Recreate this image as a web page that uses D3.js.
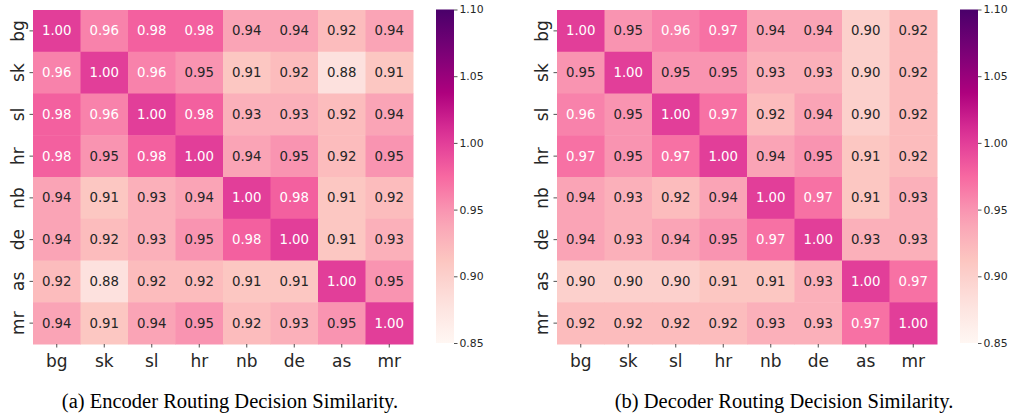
<!DOCTYPE html>
<html><head><meta charset="utf-8">
<script src="https://cdn.jsdelivr.net/npm/d3@7"></script>
<style>body{margin:0;background:#fff;} svg{display:block;}</style>
</head><body>
<svg id="chart" width="1011" height="414"></svg>
<script>
const languages = ["bg","sk","sl","hr","nb","de","as","mr"];
const encoderValues = [
 [1.00,0.96,0.98,0.98,0.94,0.94,0.92,0.94],
 [0.96,1.00,0.96,0.95,0.91,0.92,0.88,0.91],
 [0.98,0.96,1.00,0.98,0.93,0.93,0.92,0.94],
 [0.98,0.95,0.98,1.00,0.94,0.95,0.92,0.95],
 [0.94,0.91,0.93,0.94,1.00,0.98,0.91,0.92],
 [0.94,0.92,0.93,0.95,0.98,1.00,0.91,0.93],
 [0.92,0.88,0.92,0.92,0.91,0.91,1.00,0.95],
 [0.94,0.91,0.94,0.95,0.92,0.93,0.95,1.00]
];
const decoderValues = [
 [1.00,0.95,0.96,0.97,0.94,0.94,0.90,0.92],
 [0.95,1.00,0.95,0.95,0.93,0.93,0.90,0.92],
 [0.96,0.95,1.00,0.97,0.92,0.94,0.90,0.92],
 [0.97,0.95,0.97,1.00,0.94,0.95,0.91,0.92],
 [0.94,0.93,0.92,0.94,1.00,0.97,0.91,0.93],
 [0.94,0.93,0.94,0.95,0.97,1.00,0.93,0.93],
 [0.90,0.90,0.90,0.91,0.91,0.93,1.00,0.97],
 [0.92,0.92,0.92,0.92,0.93,0.93,0.97,1.00]
];
const colorbarTicks = [0.85,0.90,0.95,1.00,1.05,1.10];
const captions = ["(a) Encoder Routing Decision Similarity.","(b) Decoder Routing Decision Similarity."];
const vmin = 0.85, vmax = 1.10;

const rdpu = ["#fff7f3","#fde0dd","#fcc5c0","#fa9fb5","#f768a1","#dd3497","#ae017e","#7a0177","#49006a"];
const color = d3.scaleLinear()
  .domain(rdpu.map((_,i)=> vmin + (vmax-vmin)*i/(rdpu.length-1)))
  .range(rdpu).interpolate(d3.interpolateRgb).clamp(true);

function lum(c){
  const rgb = d3.rgb(c);
  const f = v => { v/=255; return v<=0.03928 ? v/12.92 : Math.pow((v+0.055)/1.055,2.4); };
  return 0.2126*f(rgb.r)+0.7152*f(rgb.g)+0.0722*f(rgb.b);
}

const svg = d3.select("#chart");
const defs = svg.append("defs");
const panels = [
  {data: encoderValues, x0: 33, cbx: 436, capX: 230, id:"a"},
  {data: decoderValues, x0: 557, cbx: 960, capX: 784, id:"b"}
];
const hmTop = 10, hmBottom = 344, hmW = 380;

panels.forEach((p, pi) => {
  const g = svg.append("g");
  const x = d3.scaleBand().domain(languages).range([p.x0, p.x0+hmW]).padding(0);
  const y = d3.scaleBand().domain(languages).range([hmTop, hmBottom]).padding(0);
  const cells = [];
  p.data.forEach((row,i)=>row.forEach((v,j)=>cells.push({r:languages[i], c:languages[j], v})));
  g.selectAll("rect.cell").data(cells).join("rect")
    .attr("x", d=>x(d.c)).attr("y", d=>y(d.r))
    .attr("width", x.bandwidth()+0.5).attr("height", y.bandwidth()+0.5)
    .attr("fill", d=>color(d.v));
  g.selectAll("text.ann").data(cells).join("text")
    .attr("x", d=>x(d.c)+x.bandwidth()/2).attr("y", d=>y(d.r)+y.bandwidth()/2)
    .attr("text-anchor","middle").attr("dominant-baseline","central")
    .attr("font-family","DejaVu Sans").attr("font-size",13.3)
    .attr("fill", d=> lum(color(d.v)) > 0.408 ? "#262626" : "#ffffff")
    .text(d=>d.v.toFixed(2));

  const xAxis = d3.axisBottom(x).tickSize(3.5).tickPadding(7);
  const gx = g.append("g").attr("transform",`translate(0,${hmBottom})`).call(xAxis);
  gx.select(".domain").remove();
  gx.selectAll("line").attr("stroke","#262626").attr("stroke-width",0.8);
  gx.selectAll("text").attr("font-family","DejaVu Sans").attr("font-size",17).attr("fill","#262626");

  const yAxis = d3.axisLeft(y).tickSize(3.5).tickPadding(3);
  const gy = g.append("g").attr("transform",`translate(${p.x0},0)`).call(yAxis);
  gy.select(".domain").remove();
  gy.selectAll("line").attr("stroke","#262626").attr("stroke-width",0.8);
  gy.selectAll("text").attr("font-family","DejaVu Sans").attr("font-size",17).attr("fill","#262626")
    .attr("text-anchor","middle").attr("dy",null).attr("x",null)
    .attr("transform", `translate(-15,0) rotate(-90)`)
    .attr("dominant-baseline","central");

  const gid = "grad"+p.id;
  const grad = defs.append("linearGradient").attr("id",gid).attr("x1",0).attr("y1",1).attr("x2",0).attr("y2",0);
  d3.range(0,1.0001,0.05).forEach(t=>{
    grad.append("stop").attr("offset",t).attr("stop-color", color(vmin+(vmax-vmin)*t));
  });
  const cbTop = 9.5, cbBot = 343, cbW = 18;
  g.append("rect").attr("x",p.cbx).attr("y",cbTop).attr("width",cbW).attr("height",cbBot-cbTop).attr("fill",`url(#${gid})`);
  const cy = d3.scaleLinear().domain([vmin,vmax]).range([cbBot, cbTop]);
  const cAxis = d3.axisRight(cy).tickValues(colorbarTicks).tickFormat(d3.format(".2f")).tickSize(3.5).tickPadding(2);
  const gc = g.append("g").attr("transform",`translate(${p.cbx+cbW},0)`).call(cAxis);
  gc.select(".domain").remove();
  gc.selectAll("line").attr("stroke","#262626").attr("stroke-width",0.8);
  gc.selectAll("text").attr("font-family","DejaVu Sans").attr("font-size",10.8).attr("fill","#262626");

  svg.append("text").attr("x",p.capX).attr("y",408).attr("text-anchor","middle")
    .attr("font-family","Liberation Serif").attr("font-size",20.5).attr("fill","#000")
    .text(captions[pi]);
});
</script>
</body></html>
